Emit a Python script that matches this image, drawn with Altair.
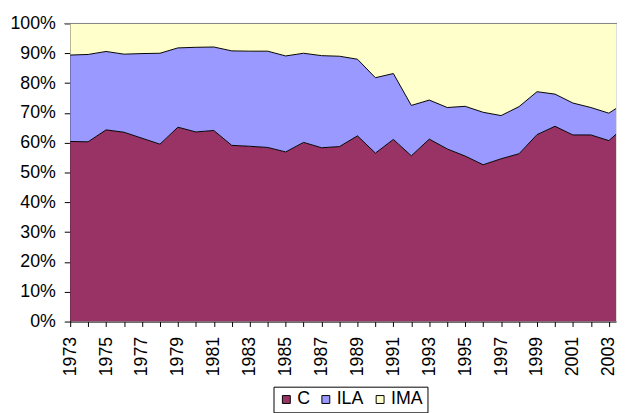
import altair as alt
import pandas as pd

years = list(range(1973, 2005))
c_share = [60.4, 60.3, 64.3, 63.5, 61.5, 59.5, 65.2, 63.6, 64.1, 59.1, 58.8, 58.4, 56.9, 60.1, 58.3, 58.7,
           62.3, 56.5, 61.1, 55.6, 61.2, 57.9, 55.5, 52.6, 54.6, 56.3, 62.7, 65.5, 62.6, 62.6, 60.7, 66.0]
ila_share = [29.0, 29.3, 26.3, 26.2, 28.4, 30.5, 26.6, 28.4, 28.0, 31.7, 31.9, 32.3, 32.2, 29.9, 30.9, 30.3,
             25.7, 25.3, 22.1, 16.9, 13.1, 13.9, 16.7, 17.6, 14.5, 15.8, 14.4, 10.8, 10.7, 9.2, 9.2, 7.8]
ima_share = [10.6, 10.4, 9.4, 10.3, 10.1, 10.0, 8.2, 8.0, 7.9, 9.2, 9.3, 9.3, 10.9, 10.0, 10.8, 11.0,
             12.0, 18.2, 16.8, 27.5, 25.7, 28.2, 27.8, 29.8, 30.9, 27.9, 22.9, 23.7, 26.7, 28.2, 30.1, 26.2]
series = ["C", "ILA", "IMA"]
colors = ["#993366", "#9999FF", "#FFFFCC"]
year_ticks = list(range(1973, 2004))
pct_ticks = list(range(0, 101, 10))

rows = []
for name, vals, k in zip(series, [c_share, ila_share, ima_share], range(3)):
    for y, v in zip(years, vals):
        rows.append({"year": y, "series": name, "value": v, "ord": k})
df = pd.DataFrame(rows)

FONT = "Liberation Sans"

x = alt.X("year:Q",
          scale=alt.Scale(domain=[1973, 2003.4], nice=False, zero=False),
          axis=alt.Axis(values=year_ticks, labelExpr="datum.value % 2 == 1 ? datum.value : ''",
                        labelAngle=270, labelAlign="right", labelBaseline="middle",
                        labelPadding=10, tickSize=5, labelFlush=False, labelOverlap=False,
                        labelBound=False, grid=False, title=None, domainColor="black", tickColor="black",
                        labelFont=FONT, labelFontSize=18, labelColor="black"))
y_axis = alt.Axis(values=pct_ticks, labelExpr="datum.value + '%'",
                  tickSize=6, labelPadding=9, grid=False, title=None,
                  labelOverlap=False, labelFlush=False, labelBound=False,
                  domainColor="black", tickColor="black",
                  labelFont=FONT, labelFontSize=18, labelColor="black")
y = alt.Y("value:Q", stack="zero", scale=alt.Scale(domain=[0, 100], nice=False), axis=y_axis)

area = alt.Chart(df).mark_area(clip=True).encode(
    x=x, y=y,
    color=alt.Color("series:N", scale=alt.Scale(domain=series, range=colors),
                    legend=alt.Legend(orient="none", legendX=206, legendY=368, direction="horizontal",
                                      title=None, symbolType="square", symbolSize=64,
                                      symbolStrokeColor="black", symbolStrokeWidth=1,
                                      labelFont=FONT, labelFontSize=18, labelColor="black",
                                      labelOffset=2, columnPadding=7, padding=4,
                                      strokeColor="black", fillColor="white")),
    order=alt.Order("ord:Q"),
)

lines = alt.Chart(df).transform_filter("datum.series != 'IMA'").mark_line(
    clip=True, color="black", strokeWidth=1).encode(
    x=x, y=y, detail="series:N", order=alt.Order("ord:Q"))

top = alt.Chart(pd.DataFrame({"v": [100]})).mark_rule(color="#808080", strokeWidth=1).encode(
    y=alt.Y("v:Q", scale=alt.Scale(domain=[0, 100], nice=False), axis=y_axis),
    x=alt.value(-6), x2=alt.value(560))

chart = alt.layer(area, lines, top).properties(
    width=553, height=302,
    padding={"left": 63, "top": 13, "right": 1, "bottom": 90},
    autosize=alt.AutoSizeParams(type="none"),
).configure_view(stroke=None).configure(background="white")

chart.save("out.html", embed_options={"renderer": "svg", "actions": False})
